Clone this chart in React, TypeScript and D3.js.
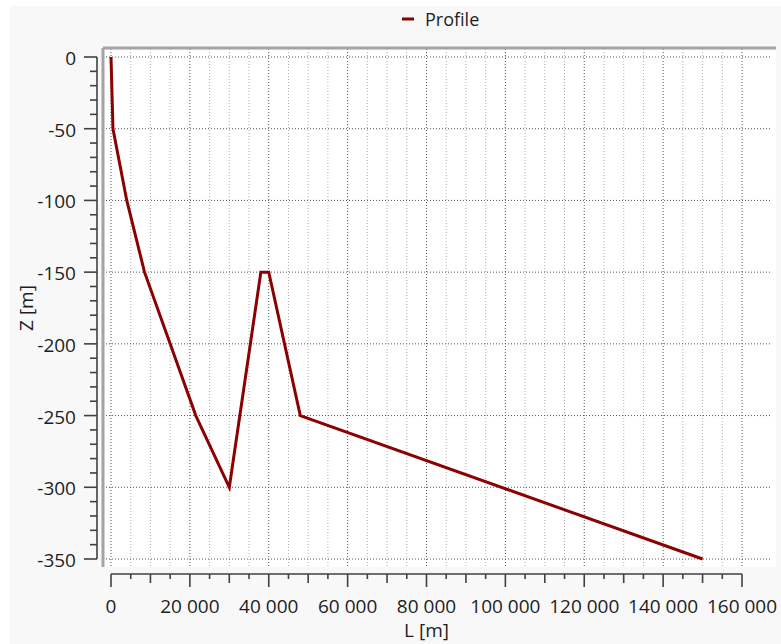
import React from "react";
import * as d3 from "d3";

const profileL = [0, 500, 4000, 8500, 15000, 21500, 30000, 38000, 40000, 48000, 150000];
const profileZ = [0, -50, -100, -150, -200, -250, -300, -150, -150, -250, -350];
const xTickValues = [0, 20000, 40000, 60000, 80000, 100000, 120000, 140000, 160000];
const yTickValues = [0, -50, -100, -150, -200, -250, -300, -350];
const seriesName = "Profile";
const xTitle = "L [m]";
const yTitle = "Z [m]";

const W = 781;
const H = 644;
const FONT = "'Segoe UI', 'Open Sans', 'Noto Sans', sans-serif";

const locale = d3.formatLocale({
  decimal: ",",
  thousands: " ",
  grouping: [3],
  currency: ["", ""],
  minus: "-",
});
const fmt = locale.format(",d");

export default function App() {
  const x = d3.scaleLinear().domain([0, 160000]).range([111, 742]);
  const y = d3.scaleLinear().domain([0, -350]).range([57, 559]);

  const plotL = 103;
  const plotR = 776;
  const plotT = 48;
  const plotB = 567;

  const data = profileL.map((l, i) => [l, profileZ[i]] as [number, number]);
  const line = d3
    .line<[number, number]>()
    .x((d) => x(d[0]))
    .y((d) => y(d[1]));

  const vGrid = d3.range(0, 160001, 5000);
  const hGrid = yTickValues;
  const xTicksAll = d3.range(0, 160001, 5000);
  const yTicksAll = d3.range(0, -351, -10);

  const axisX = 97;
  const axisY = 574;

  return (
    <div style={{ position: "fixed", left: 0, top: 0 }}>
      <svg width={W} height={H} style={{ display: "block", fontFamily: FONT }}>
        <rect x={0} y={0} width={W} height={H} fill="#ffffff" />
        <rect x={10} y={6} width={W - 10} height={H - 6} fill="#f8f8f8" />
        <rect x={plotL} y={plotT} width={plotR - plotL} height={plotB - plotT} fill="#ffffff" />

        {/* vertical grid */}
        {vGrid.map((v) => {
          const major = v % 20000 === 0;
          return (
            <line
              key={"vg" + v}
              x1={x(v)}
              x2={x(v)}
              y1={plotT + 1}
              y2={plotB}
              stroke={major ? "#555" : "#b0b0b0"}
              strokeWidth={1}
              strokeDasharray="1,2"
            />
          );
        })}
        {/* horizontal grid */}
        {hGrid.map((v) => (
          <line
            key={"hg" + v}
            x1={plotL + 3}
            x2={plotR - 4}
            y1={y(v)}
            y2={y(v)}
            stroke="#555"
            strokeWidth={1}
            strokeDasharray="1,2"
          />
        ))}

        {/* frame */}
        <line x1={plotL} x2={plotR} y1={plotT} y2={plotT} stroke="#a4a4a4" strokeWidth={3} />
        <line x1={plotL} x2={plotL} y1={plotT} y2={plotB} stroke="#a4a4a4" strokeWidth={3} />

        {/* profile line */}
        <path d={line(data) || ""} fill="none" stroke="#8b0000" strokeWidth={3} />

        {/* y axis */}
        <line x1={axisX} x2={axisX} y1={y(0)} y2={y(-350)} stroke="#404040" strokeWidth={1.6} />
        {yTicksAll.map((v) => {
          const major = v % 50 === 0;
          return (
            <line
              key={"yt" + v}
              x1={axisX - (major ? 13 : 7)}
              x2={axisX}
              y1={y(v)}
              y2={y(v)}
              stroke="#404040"
              strokeWidth={1.6}
            />
          );
        })}
        {yTickValues.map((v) => (
          <text
            key={"yl" + v}
            x={76}
            y={y(v) + 1}
            textAnchor="end"
            dominantBaseline="central"
            fontSize={19}
            fill="#1e1e1e"
          >
            {fmt(v)}
          </text>
        ))}

        {/* x axis */}
        <line x1={x(0)} x2={x(160000)} y1={axisY} y2={axisY} stroke="#404040" strokeWidth={1.6} />
        {xTicksAll.map((v) => {
          const len = v % 20000 === 0 ? 13 : v % 10000 === 0 ? 9 : 5;
          return (
            <line
              key={"xt" + v}
              x1={x(v)}
              x2={x(v)}
              y1={axisY}
              y2={axisY + len}
              stroke="#404040"
              strokeWidth={1.6}
            />
          );
        })}
        {xTickValues.map((v) => (
          <text
            key={"xl" + v}
            x={x(v)}
            y={613}
            textAnchor="middle"
            fontSize={19}
            fill="#1e1e1e"
          >
            {fmt(v)}
          </text>
        ))}

        {/* axis titles */}
        <text x={x(80000)} y={637} textAnchor="middle" fontSize={19} fill="#1e1e1e">
          {xTitle}
        </text>
        <text
          transform={`translate(33, ${(y(0) + y(-350)) / 2}) rotate(-90)`}
          textAnchor="middle"
          fontSize={19}
          fill="#1e1e1e"
        >
          {yTitle}
        </text>

        {/* legend */}
        <line x1={402} x2={414} y1={19} y2={19} stroke="#8b0000" strokeWidth={3} />
        <text x={425} y={19} dominantBaseline="central" fontSize={18} fill="#1e1e1e">
          {seriesName}
        </text>
      </svg>
    </div>
  );
}
